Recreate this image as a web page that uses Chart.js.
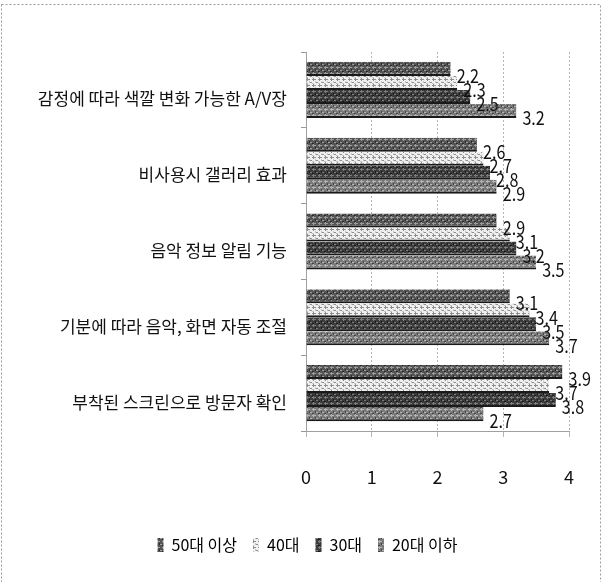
<!DOCTYPE html>
<html>
<head>
<meta charset="utf-8">
<script src="https://cdn.jsdelivr.net/npm/chart.js"></script>
<style>
  body { margin: 0; background: #fff; }
  #wrap { width: 606px; height: 582px; position: relative; }
</style>
</head>
<body>
<div id="wrap"><canvas id="chart" width="606" height="582"></canvas></div>
<script>
// data (top to bottom)
const categories = [
  '감정에 따라 색깔 변화 가능한 A/V장',
  '비사용시 갤러리 효과',
  '음악 정보 알림 기능',
  '기분에 따라 음악, 화면 자동 조절',
  '부착된 스크린으로 방문자 확인'
];
const seriesNames = ['50대 이상', '40대', '30대', '20대 이하'];
const over50 = [2.2, 2.6, 2.9, 3.1, 3.9];
const age40 = [2.3, 2.7, 3.1, 3.4, 3.7];
const age30 = [2.5, 2.8, 3.2, 3.5, 3.8];
const under20 = [3.2, 2.9, 3.5, 3.7, 2.7];
const xTicks = [0, 1, 2, 3, 4];

const FONT = '"Noto Sans CJK KR", "Noto Sans", sans-serif';

// grainy grey fills like the scanned original
function makePattern(bg, fg, mid) {
    const c = document.createElement('canvas');
    c.width = 6; c.height = 6;
    const g = c.getContext('2d');
    g.fillStyle = bg;
    g.fillRect(0, 0, 6, 6);
    g.fillStyle = fg;
    g.fillRect(0, 1, 4, 1);
    g.fillRect(1, 0, 1, 3);
    g.fillRect(4, 4, 2, 1);
    g.fillStyle = mid;
    g.fillRect(3, 3, 1, 2);
    g.fillRect(0, 5, 2, 1);
    return document.createElement('canvas').getContext('2d').createPattern(c, 'repeat');
}

const fills = [
    makePattern('#555555', '#9c9c9c', '#2a2a2a'),
    makePattern('#f0f0f0', '#8e8e8e', '#c4c4c4'),
    makePattern('#3c3c3c', '#7c7c7c', '#1a1a1a'),
    makePattern('#7a7a7a', '#b4b4b4', '#444444')
];

const seriesData = [over50, age40, age30, under20];

const borderPlugin = {
    id: 'pageBorder',
    beforeDraw(chart) {
        const ctx = chart.ctx;
        ctx.save();
        ctx.strokeStyle = '#9a9a9a';
        ctx.lineWidth = 1;
        ctx.setLineDash([2, 2]);
        ctx.strokeRect(1.5, 4.5, 599, 620);
        ctx.restore();
    }
};

// legend sits centred under the whole picture, not under the padded box
const legendShift = {
    id: 'legendShift',
    afterLayout(chart) {
        chart.legend.left += 23;
        chart.legend.right += 23;
    }
};

// value labels, narrow and tall like the original
const valueLabels = {
    id: 'valueLabels',
    afterDatasetsDraw(chart) {
        const ctx = chart.ctx;
        ctx.save();
        ctx.font = '19px ' + FONT;
        ctx.fillStyle = '#111';
        ctx.textAlign = 'left';
        ctx.textBaseline = 'middle';
        chart.data.datasets.forEach((ds, i) => {
            chart.getDatasetMeta(i).data.forEach((bar, j) => {
                ctx.save();
                ctx.translate(bar.x + 6, bar.y + 7);
                ctx.scale(0.85, 1);
                ctx.fillText(ds.data[j].toFixed(1), 0, 0);
                ctx.restore();
            });
        });
        ctx.restore();
    }
};

new Chart(document.getElementById('chart'), {
    type: 'bar',
    data: {
        labels: categories,
        datasets: seriesNames.map((name, i) => ({
            label: name,
            data: seriesData[i],
            backgroundColor: fills[i],
            borderColor: '#1a1a1a',
            borderWidth: { top: 0, right: 0, bottom: 2, left: 0 },
            borderSkipped: false,
            categoryPercentage: 0.74,
            barPercentage: 1.0
        }))
    },
    options: {
        indexAxis: 'y',
        responsive: false,
        animation: false,
        layout: { padding: { left: 0, right: 37, top: 52, bottom: 19 } },
        scales: {
            x: {
                min: 0,
                max: 4,
                afterBuildTicks: scale => { scale.ticks = xTicks.map(v => ({ value: v })); },
                afterFit: scale => { scale.height = 90; },
                grid: {
                    color: '#b5b5b5',
                    tickLength: 6,
                    drawTicks: true
                },
                border: { display: true, color: '#a0a0a0', dash: [2, 2] },
                ticks: {
                    padding: 29,
                    color: '#111',
                    font: { family: FONT, size: 18 }
                }
            },
            y: {
                afterFit: scale => { scale.width = 306; },
                grid: {
                    drawOnChartArea: false,
                    color: '#999',
                    tickLength: 5
                },
                border: { display: true, color: '#a0a0a0', dash: [2, 2] },
                ticks: {
                    padding: 14,
                    labelOffset: 9,
                    color: '#111',
                    font: { family: FONT, size: 17 }
                }
            }
        },
        plugins: {
            legend: {
                position: 'bottom',
                labels: {
                    boxWidth: 6,
                    boxHeight: 14,
                    padding: 16,
                    color: '#111',
                    font: { family: FONT, size: 16 },
                    generateLabels: chart => chart.data.datasets.map((ds, i) => ({
                        text: ds.label,
                        fillStyle: fills[i],
                        strokeStyle: '#777',
                        lineWidth: 0,
                        datasetIndex: i,
                        hidden: false
                    }))
                }
            },
            tooltip: { enabled: false }
        }
    },
    plugins: [borderPlugin, legendShift, valueLabels]
});
</script>
</body>
</html>
